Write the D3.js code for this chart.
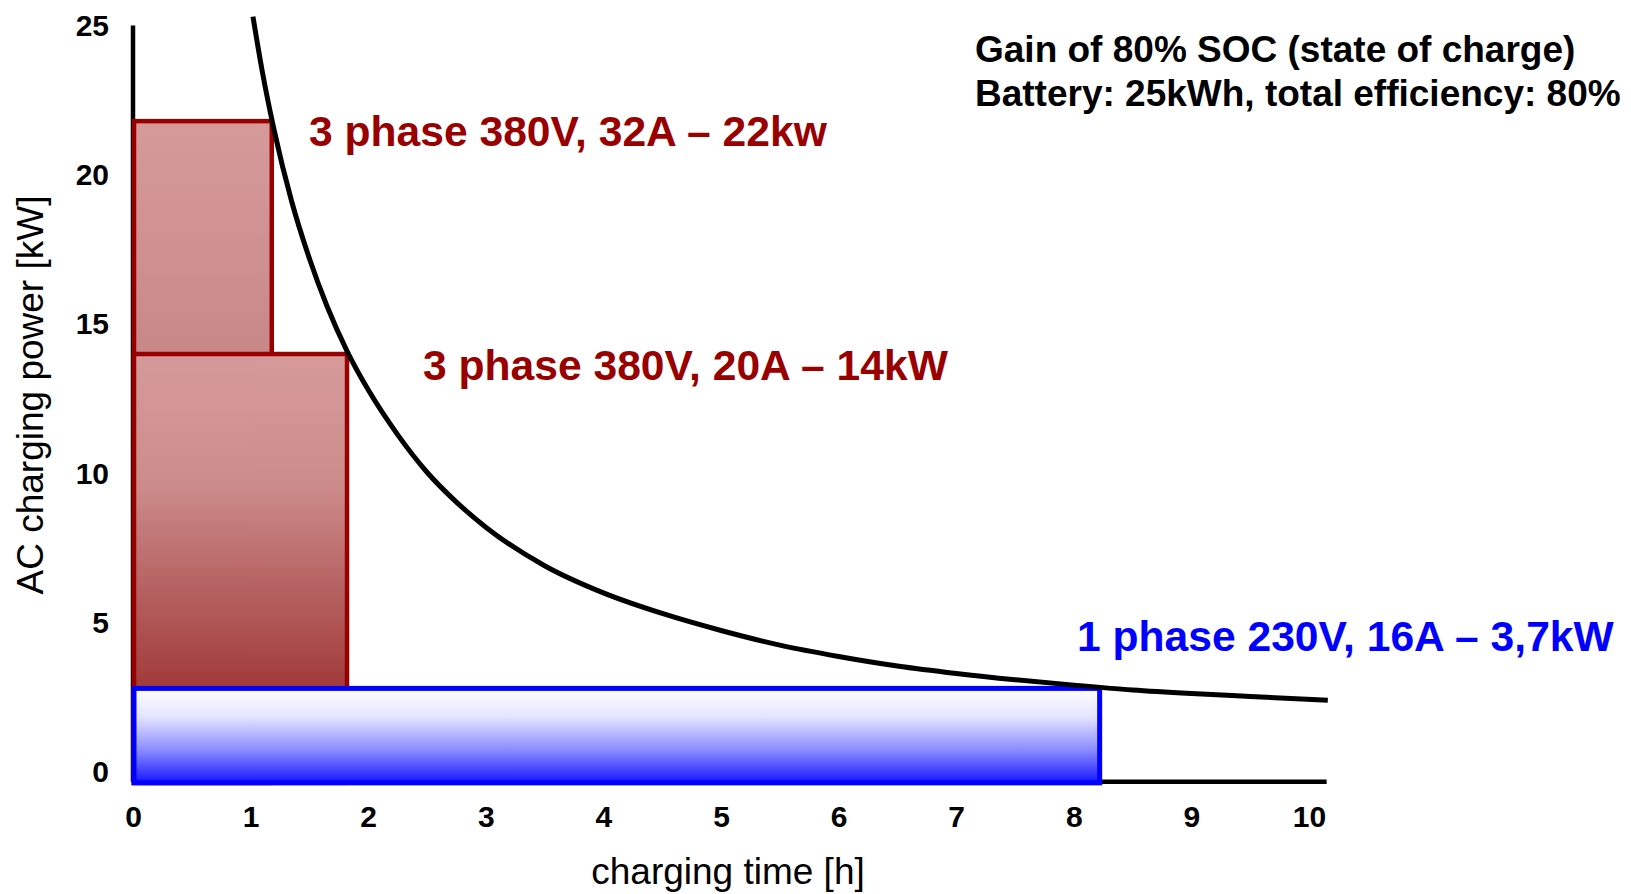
<!DOCTYPE html>
<html><head><meta charset="utf-8">
<script src="https://cdn.jsdelivr.net/npm/d3@7"></script>
<style>
body{margin:0;background:#fff;}
svg{display:block;}
text{font-family:"Liberation Sans",Arial,sans-serif;}
</style>
</head><body>
<svg id="c" width="1631" height="894"></svg>
<script>
// ---- data ----
const xTicks = [0,1,2,3,4,5,6,7,8,9,10];
const yTicks = [0,5,10,15,20,25];
const chargerNames = ["3 phase 380V, 32A – 22kw", "3 phase 380V, 20A – 14kW", "1 phase 230V, 16A – 3,7kW"];
const chargerPower = [21.8, 14.0, 2.8];   // kW (drawn height)
const chargerTime  = [1.18, 1.82, 8.22];  // h  (drawn width)
const chargerKind  = ["red1", "red2", "blue"];
const curveTime  = [1.02, 1.1, 1.2, 1.35, 1.5, 1.65, 1.82, 2.0, 2.25, 2.5, 2.75, 3.0, 3.5, 4.0, 4.5, 5.0, 5.5, 6.0, 6.5, 7.0, 7.5, 8.0, 8.5, 9.0, 9.5, 10.16];
const curvePower = [25.3, 23.45, 21.5, 19.1, 17.2, 15.6, 14.1, 12.8, 11.3, 10.04, 9.04, 8.2, 6.91, 6.0, 5.31, 4.74, 4.25, 3.87, 3.55, 3.3, 3.09, 2.91, 2.75, 2.63, 2.53, 2.4];
const axisFloor = -0.33;   // power value where the time axis is drawn
const axisEnd = 10.15;     // end of the time axis line
const noteLines = ["Gain of 80% SOC (state of charge)", "Battery: 25kWh, total efficiency: 80%"];
const xTitle = "charging time [h]";
const yTitle = "AC charging power [kW]";

// ---- layout ----
const svg = d3.select("#c");
const x = d3.scaleLinear().domain([0,10]).range([133,1309]);
const y = d3.scaleLinear().domain([0,25]).range([772,25.6]);

const defs = svg.append("defs");
function grad(id, stops){
  const g = defs.append("linearGradient").attr("id",id).attr("x1",0).attr("y1",0).attr("x2",0).attr("y2",1);
  stops.forEach(s=>g.append("stop").attr("offset",s[0]).attr("stop-color",s[1]));
}
grad("red1",[[0,"#d69a9a"],[0.35,"#c98888"],[0.75,"#ad4d4d"],[1,"#9a2a2a"]]);
grad("red2",[[0,"#d69a9a"],[0.3,"#cd8c8c"],[0.75,"#a43f3f"],[1,"#9a2626"]]);
grad("blue",[[0,"#ffffff"],[0.3,"#e4e4ff"],[0.65,"#8c8cff"],[1,"#1515ff"]]);

// axes lines
svg.append("line").attr("x1",x(0)).attr("x2",x(0)).attr("y1",y(25)).attr("y2",y(axisFloor))
  .attr("stroke","#000").attr("stroke-width",4.5);
svg.append("line").attr("x1",x(0)).attr("x2",x(axisEnd)).attr("y1",y(axisFloor)).attr("y2",y(axisFloor))
  .attr("stroke","#000").attr("stroke-width",4.5);

// tick labels via axes
const xAxis = svg.append("g").attr("transform",`translate(0,${y(axisFloor)})`)
  .call(d3.axisBottom(x).tickValues(xTicks).tickSize(0).tickPadding(36).tickFormat(d3.format("d")));
xAxis.select(".domain").remove();
xAxis.selectAll("text").attr("font-size",30).attr("font-weight","bold").attr("fill","#000")
  .attr("font-family","Liberation Sans, Arial, sans-serif").attr("dy","0.32em");

const yAxis = svg.append("g").attr("transform",`translate(${x(0)-24},0)`)
  .call(d3.axisLeft(y).tickValues(yTicks).tickSize(0).tickPadding(0).tickFormat(d3.format("d")));
yAxis.select(".domain").remove();
yAxis.selectAll("text").attr("font-size",30).attr("font-weight","bold").attr("fill","#000")
  .attr("font-family","Liberation Sans, Arial, sans-serif");

// rectangles
const rects = chargerPower.map((p,i)=>({p, t:chargerTime[i], kind:chargerKind[i]}));
svg.selectAll("rect.ch").data(rects).enter().append("rect").attr("class","ch")
  .attr("x",x(0)+1).attr("y",d=>y(d.p))
  .attr("width",d=>x(d.t)-x(0)-1).attr("height",d=>y(axisFloor)-y(d.p)+1)
  .attr("fill",d=>`url(#${d.kind})`)
  .attr("stroke",d=>d.kind==="blue"?"#0000ff":"#990000")
  .attr("stroke-width",d=>d.kind==="blue"?5:4.5);

// curve
const pts = curveTime.map((t,i)=>[t,curvePower[i]]);
svg.append("path").datum(pts)
  .attr("d",d3.line().x(d=>x(d[0])).y(d=>y(d[1])).curve(d3.curveMonotoneX))
  .attr("fill","none").attr("stroke","#000").attr("stroke-width",5);

// labels
const labelPos = [[309,146],[423,380],[1077,651]];
chargerNames.forEach((n,i)=>{
  svg.append("text").attr("x",labelPos[i][0]).attr("y",labelPos[i][1])
    .attr("font-size",42.6).attr("font-weight","bold")
    .attr("fill",chargerKind[i]==="blue"?"#0000ff":"#990000").text(n);
});
noteLines.forEach((t,i)=>{
  svg.append("text").attr("x",975).attr("y",62+44*i).attr("font-size",37).attr("font-weight","bold")
    .attr("fill","#000").text(t);
});

// titles
svg.append("text").attr("x",728).attr("y",884).attr("text-anchor","middle")
  .attr("font-size",37).attr("fill","#000").text(xTitle);
svg.append("text").attr("transform","translate(43,395) rotate(-90)").attr("text-anchor","middle")
  .attr("font-size",37).attr("fill","#000").text(yTitle);
</script>
</body></html>
